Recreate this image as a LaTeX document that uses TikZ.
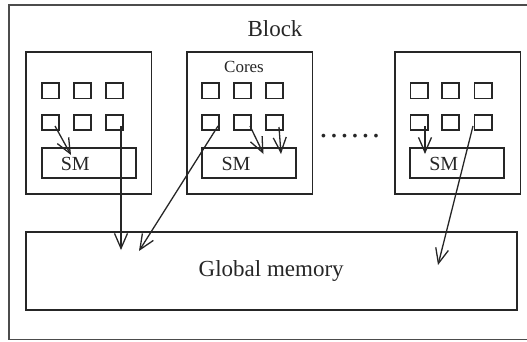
\documentclass[tikz,border=0pt]{standalone}
\usepackage{fontspec}
\setmainfont{Liberation Serif}
\usetikzlibrary{arrows.meta}
\begin{document}
\begin{tikzpicture}[x=1pt,y=-1pt,
  box/.style={draw=black!85, line width=1.8pt, inner sep=0pt},
  blockbox/.style={box, minimum width=125.2pt, minimum height=142.2pt},
  corebox/.style={box, minimum width=17.2pt, minimum height=15.2pt},
  smbox/.style={box, minimum width=93.6pt, minimum height=30.5pt},
  smtext/.style={inner sep=0pt, anchor=base, font=\fontsize{20}{24}\selectfont, text=black!85},
  bigtext/.style={inner sep=0pt, font=\fontsize{23}{27}\selectfont, text=black!85},
  link/.style={draw=black!85, line width=1.3pt, -{Straight Barb[length=15pt,width=13pt]}}]
\useasboundingbox (0,0) rectangle (527,341);
\draw[black!70, line width=1.3pt] (560,5) -- (9,5) -- (9,339.5) -- (560,339.5);
\node[bigtext, anchor=base] (blocklabel) at (275,36.5) {Block};
% blocks
\node[blockbox] (b1) at (88.9,123) {};
\node[blockbox] (b2) at (249.9,123) {};
\node[blockbox] (b3) at (457.9,123) {};
\node[inner sep=0pt, anchor=base, font=\fontsize{17}{20}\selectfont, text=black!85] (cores) at (244,72.5) {Cores};
% cores
\foreach \b/\l in {1/25.7, 2/185.7, 3/394} {
  \foreach \c/\o in {1/25, 2/56.5, 3/89} {
    \node[corebox] (c\b1\c) at (\l+\o,90.8) {};
    \node[corebox] (c\b2\c) at (\l+\o,122.5) {};
  }
}
% SM boxes
\node[smbox] (sm1) at (89,162.9) {};
\node[smbox] (sm2) at (248.9,162.9) {};
\node[smbox] (sm3) at (457,162.9) {};
\node[smtext] (sm1t) at (75.3,170) {SM};
\node[smtext] (sm2t) at (236,170) {SM};
\node[smtext] (sm3t) at (443.8,170) {SM};
% dots
\node[inner sep=0pt, anchor=base, font=\fontsize{31.4}{34}\selectfont, text=black!85] (dots) at (349.8,137) {……};
% global memory
\node[box, minimum width=491.2pt, minimum height=78.2pt, font=\fontsize{23}{27}\selectfont, text=black!85] (gm) at (271.2,271) {Global memory};
% arrow ends
\coordinate (s1) at (55,126);   \coordinate (t1) at (71,155);
\coordinate (s2) at (121,126);  \coordinate (t2) at (121,250);
\coordinate (s3) at (218,126);  \coordinate (t3) at (139,251);
\coordinate (s4) at (250,126);  \coordinate (t4) at (263.5,154);
\coordinate (s5) at (279,127);  \coordinate (t5) at (281,154);
\coordinate (s6) at (425,126);  \coordinate (t6) at (425,154);
\coordinate (s7) at (473,126);  \coordinate (t7) at (438,265);
\foreach \i in {1,...,7} { \draw[link] (s\i) -- (t\i); }
\end{tikzpicture}
\end{document}
